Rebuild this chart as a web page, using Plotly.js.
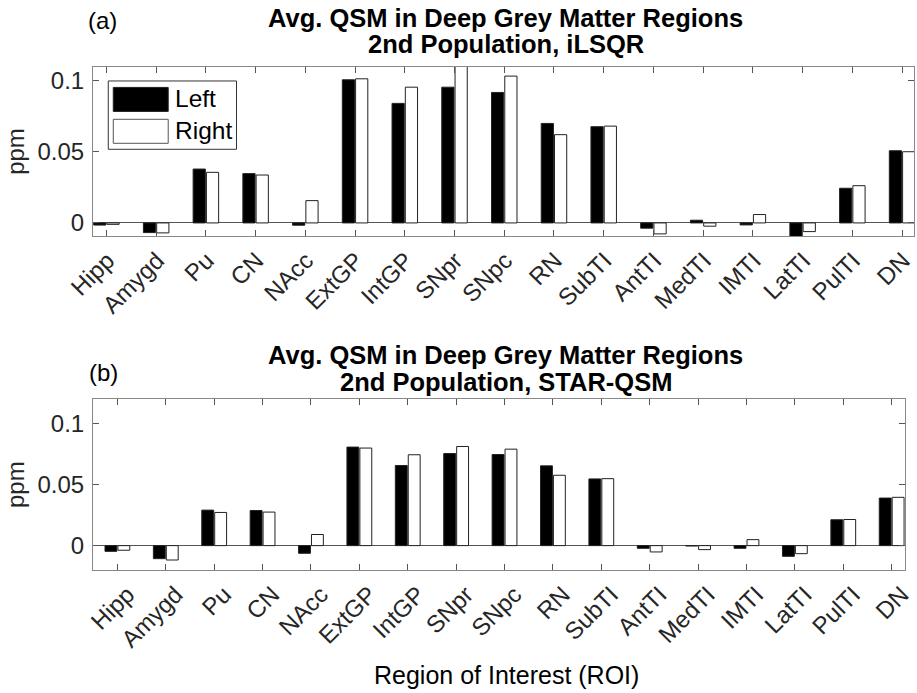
<!DOCTYPE html>
<html>
<head>
<meta charset="utf-8">
<script src="https://cdn.plot.ly/plotly-3.0.1.min.js"></script>
<style>html,body{margin:0;padding:0;background:#fff;}#chart{width:917px;height:693px;}</style>
</head>
<body>
<div id="chart"></div>
<script>
// ---- data ----
const regions = ["Hipp","Amygd","Pu","CN","NAcc","ExtGP","IntGP","SNpr","SNpc","RN","SubTI","AntTI","MedTI","IMTI","LatTI","PulTI","DN"];
const ilsqrLeft  = [-0.0015,-0.0068,0.0379,0.0347,-0.0016,0.1007,0.0841,0.0955,0.0918,0.0700,0.0677,-0.0037,0.0019,-0.0014,-0.0095,0.0244,0.0508];
const ilsqrRight = [-0.0010,-0.0070,0.0356,0.0337,0.0157,0.1014,0.0955,0.1150,0.1033,0.0621,0.0681,-0.0077,-0.0023,0.0059,-0.0061,0.0262,0.0501];
const starLeft   = [-0.0047,-0.0107,0.0291,0.0288,-0.0063,0.0808,0.0657,0.0755,0.0747,0.0654,0.0547,-0.0022,-0.0003,-0.0022,-0.0088,0.0212,0.0390];
const starRight  = [-0.0038,-0.0118,0.0272,0.0275,0.0091,0.0800,0.0745,0.0813,0.0791,0.0577,0.0549,-0.0052,-0.0033,0.0049,-0.0066,0.0214,0.0396];
const yTickVals = [0, 0.05, 0.1];
const yTickText = ["0", "0.05", "0.1"];

const idx = regions.map((_, i) => i);
const FONT = "Liberation Sans, Arial, Helvetica, sans-serif";
const TXT = "#262626";

function barTrace(y, name, fill, xa, ya) {
  return {
    type: "bar", x: idx, y: y, name: name, xaxis: xa, yaxis: ya,
    marker: {color: fill, line: {color: "#222", width: 1}},
    showlegend: false, hoverinfo: "x+y"
  };
}

const data = [
  barTrace(ilsqrLeft, "Left", "#000000", "x", "y"),
  barTrace(ilsqrRight, "Right", "#ffffff", "x", "y"),
  barTrace(starLeft, "Left", "#000000", "x2", "y2"),
  barTrace(starRight, "Right", "#ffffff", "x2", "y2")
];

function xAxis(anchor, domain, range, shift) {
  return {
    anchor: anchor, domain: domain, range: range,
    tickmode: "array", tickvals: idx, ticktext: regions, tickangle: -45,
    ticks: "inside", ticklen: 6, tickcolor: "#555", mirror: "ticks",
    showline: true, linecolor: "#888", linewidth: 1, showgrid: false, zeroline: false,
    tickfont: {family: FONT, size: 24, color: TXT},
    ticklabelstandoff: 0, ticklabelshift: shift, ticklabeloverflow: "allow"
  };
}
function yAxis(anchor, domain, range) {
  return {
    anchor: anchor, domain: domain, range: range,
    tickmode: "array", tickvals: yTickVals, ticktext: yTickText,
    ticks: "inside", ticklen: 6, tickcolor: "#555", mirror: "ticks",
    showline: true, linecolor: "#888", linewidth: 1, showgrid: false,
    zeroline: true, zerolinecolor: "#555", zerolinewidth: 1,
    tickfont: {family: FONT, size: 24, color: TXT}, ticklabelstandoff: 3,
    title: {text: "ppm", font: {family: FONT, size: 24, color: TXT}, standoff: 6}
  };
}

function ann(text, x, y, size, bold, xanchor) {
  return {text: bold ? "<b>" + text + "</b>" : text, xref: "paper", yref: "paper", x: x, y: y,
    xanchor: xanchor || "center", yanchor: "middle", showarrow: false,
    font: {family: FONT, size: size, color: "#000"}};
}

const layout = {
  width: 917, height: 693,
  margin: {l: 93, r: 3, t: 67, b: 123},
  paper_bgcolor: "#fff", plot_bgcolor: "#fff",
  barmode: "group", bargap: 0.466, bargroupgap: 0.08,
  xaxis: xAxis("y", [0, 1], [-0.27, 16.24], 1),
  yaxis: yAxis("x", [0.664, 1.0], [-0.0092, 0.1097]),
  xaxis2: xAxis("y2", [0, 0.989], [-0.504, 16.275], 10),
  yaxis2: yAxis("x2", [0, 0.3394], [-0.02, 0.12]),
  annotations: [
    ann("Avg. QSM in Deep Grey Matter Regions", 0.503, 1.0974, 25.5, true),
    ann("2nd Population, iLSQR", 0.503, 1.0457, 25.5, true),
    ann("(a)", 0.011, 1.0934, 24, false),
    ann("Avg. QSM in Deep Grey Matter Regions", 0.503, 0.4274, 25.5, true),
    ann("2nd Population, STAR-QSM", 0.503, 0.3738, 25.5, true),
    ann("(b)", 0.013, 0.3936, 24, false),
    ann("Left", 0.0976, 0.9370, 24.5, false, "left"),
    ann("Right", 0.0976, 0.8732, 24.5, false, "left"),
    ann("Region of Interest (ROI)", 0.5036, -0.2087, 25, false)
  ],
  shapes: [
    {type: "rect", xref: "paper", yref: "paper", x0: 0.0186, x1: 0.1748, y0: 0.8364, y1: 0.9722,
     line: {color: "#333", width: 1}, fillcolor: "#fff"},
    {type: "rect", xref: "paper", yref: "paper", x0: 0.0247, x1: 0.0916, y0: 0.9117, y1: 0.9594,
     line: {color: "#222", width: 1}, fillcolor: "#000"},
    {type: "rect", xref: "paper", yref: "paper", x0: 0.0247, x1: 0.0916, y0: 0.8483, y1: 0.8960,
     line: {color: "#555", width: 1}, fillcolor: "#fff"}
  ]
};

Plotly.newPlot("chart", data, layout, {displayModeBar: false, staticPlot: true});
</script>
</body>
</html>
